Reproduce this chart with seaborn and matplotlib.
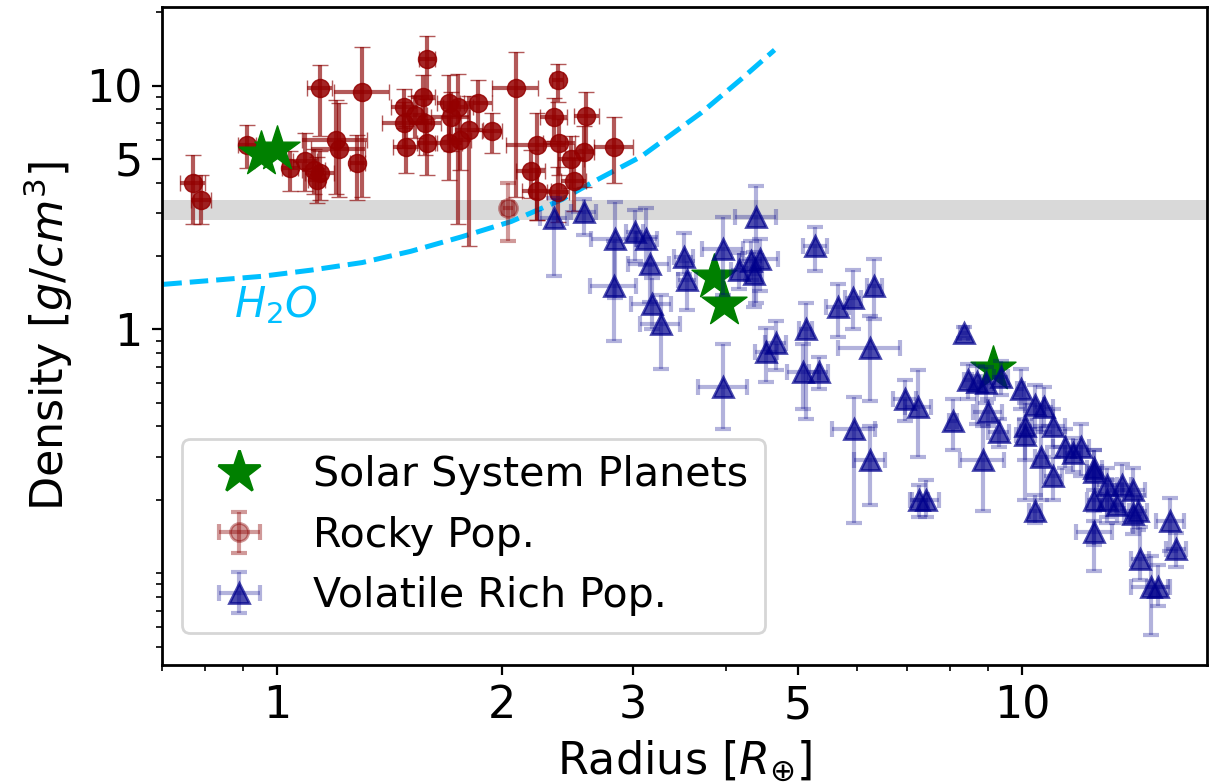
import numpy as np
import matplotlib
matplotlib.use("Agg")
import matplotlib.pyplot as plt
import matplotlib.ticker as mticker
from matplotlib.lines import Line2D
import seaborn as sns

# ---------------- data ----------------
sol_r = [0.95, 1.00, 3.86, 3.98, 9.14]
sol_rho = [5.24, 5.51, 1.64, 1.27, 0.69]

rocky_r = [0.77, 0.79, 0.91, 1.04, 1.09, 1.12, 1.13, 1.14, 1.14, 1.20, 1.21, 1.30, 1.28,
           1.48, 1.48, 1.49, 1.57, 1.58, 1.59, 1.70, 1.71, 1.70, 1.75, 1.81, 1.86, 1.94,
           1.53, 1.59, 1.76, 2.09, 2.38, 2.23, 2.35, 2.39, 2.60, 2.58, 2.50, 2.19, 2.23,
           2.38, 2.83, 2.48]
rocky_rho = [4.0, 3.4, 5.7, 4.6, 4.9, 4.5, 4.1, 4.4, 9.8, 6.0, 5.5, 9.4, 4.8,
             8.2, 7.05, 5.6, 9.0, 7.0, 5.8, 8.5, 7.4, 5.8, 8.2, 6.6, 8.5, 6.5,
             7.6, 12.8, 6.0, 9.8, 10.5, 5.7, 7.4, 5.8, 7.5, 5.35, 4.05, 4.45, 3.7,
             3.65, 5.6, 5.0]
rocky_rho_lo = [1.3, 0.7, 1.1, 0.9, 1.2, 0.9, 0.8, 1.0, 3.6, 2.4, 2.0, 5.9, 1.4,
                1.5, 1.5, 1.2, 2.0, 1.8, 1.5, 2.5, 2.0, 1.7, 5.5, 4.4, 2.0, 1.2,
                1.5, 4.0, 1.5, 6.3, 1.9, 2.9, 1.5, 1.5, 2.0, 1.5, 1.0, 1.0, 0.9,
                0.9, 1.6, 1.2]
rocky_rho_hi = [1.2, 0.9, 1.2, 0.8, 1.5, 1.0, 1.0, 1.0, 2.4, 2.7, 3.0, 5.0, 1.5,
                1.5, 1.5, 1.2, 2.0, 1.8, 1.5, 2.5, 2.0, 1.7, 3.0, 2.5, 2.0, 1.2,
                1.5, 3.2, 1.5, 3.9, 1.8, 2.0, 1.5, 1.5, 1.9, 1.5, 1.0, 1.0, 0.9,
                1.0, 1.8, 1.2]
rocky_r_err = [0.03, 0.025, 0.025, 0.025, 0.04, 0.04, 0.03, 0.05, 0.045, 0.12, 0.10, 0.11, 0.03,
               0.06, 0.10, 0.06, 0.06, 0.08, 0.05, 0.06, 0.10, 0.07, 0.08, 0.08, 0.08, 0.06,
               0.06, 0.04, 0.06, 0.15, 0.04, 0.20, 0.10, 0.12, 0.10, 0.08, 0.10, 0.10, 0.10,
               0.08, 0.17, 0.10]

# one less certain rocky planet drawn fainter
faint_r = [2.04]
faint_rho = [3.15]
faint_rho_err = [0.85]
faint_r_err = [0.03]

vol_r = [2.35, 2.58, 2.84, 2.83, 3.02, 3.13, 3.16, 3.18, 3.27, 3.51, 3.55, 3.97, 3.97, 4.39,
         4.16, 4.32, 4.45, 4.37, 5.27, 5.66, 5.93, 6.33, 6.25, 4.53, 4.67, 5.12, 5.08, 5.33,
         5.95, 6.25, 6.96, 7.25, 7.27, 8.35, 8.08, 8.86, 7.42, 8.45, 8.70, 8.95, 9.36, 9.00,
         9.30, 9.95, 10.4, 10.1, 10.6, 11.0, 11.0, 10.4, 10.7, 11.4, 12.0, 12.5, 12.5, 13.0,
         13.6, 14.1, 12.5, 13.0, 13.4, 14.1, 14.3, 12.5, 14.4, 14.9, 15.2, 15.8, 16.1, 11.7, 10.1]
vol_rho = [2.85, 3.04, 2.34, 1.50, 2.50, 2.34, 1.85, 1.27, 1.05, 1.99, 1.60, 2.13, 0.58, 2.88,
           1.76, 1.90, 1.94, 1.68, 2.19, 1.23, 1.35, 1.50, 0.84, 0.81, 0.88, 1.00, 0.67, 0.67,
           0.39, 0.29, 0.52, 0.48, 0.20, 0.97, 0.42, 0.29, 0.20, 0.62, 0.61, 0.60, 0.64, 0.46,
           0.38, 0.57, 0.49, 0.40, 0.30, 0.40, 0.25, 0.18, 0.48, 0.33, 0.33, 0.26, 0.27, 0.23,
           0.23, 0.22, 0.20, 0.20, 0.19, 0.175, 0.18, 0.147, 0.114, 0.088, 0.088, 0.163, 0.126,
           0.31, 0.37]
vol_rho_lo = [1.2, 0.6, 1.0, 0.6, 0.6, 0.5, 0.55, 0.27, 0.36, 0.3, 0.4, 0.75, 0.19, 1.6,
              0.3, 0.3, 0.5, 0.45, 0.46, 0.3, 0.35, 0.4, 0.33, 0.2, 0.2, 0.57, 0.2, 0.1,
              0.23, 0.1, 0.1, 0.18, 0.03, 0.05, 0.1, 0.11, 0.03, 0.1, 0.2, 0.1, 0.1, 0.06,
              0.05, 0.10, 0.10, 0.2, 0.1, 0.07, 0.05, 0.02, 0.1, 0.06, 0.08, 0.08, 0.05, 0.06,
              0.05, 0.05, 0.07, 0.04, 0.03, 0.03, 0.03, 0.045, 0.02, 0.032, 0.015, 0.04, 0.02,
              0.05, 0.08]
vol_rho_hi = [0.6, 0.4, 1.0, 0.8, 0.6, 0.8, 0.55, 0.35, 0.34, 0.5, 0.3, 0.75, 0.29, 1.0,
              0.3, 0.4, 0.4, 0.4, 0.45, 0.3, 0.4, 0.45, 0.29, 0.2, 0.2, 0.28, 0.2, 0.1,
              0.14, 0.11, 0.1, 0.2, 0.03, 0.05, 0.1, 0.11, 0.04, 0.1, 0.1, 0.1, 0.1, 0.06,
              0.05, 0.12, 0.10, 0.1, 0.1, 0.07, 0.05, 0.03, 0.1, 0.06, 0.08, 0.06, 0.05, 0.04,
              0.05, 0.05, 0.05, 0.04, 0.03, 0.03, 0.03, 0.016, 0.04, 0.03, 0.02, 0.04, 0.02,
              0.05, 0.06]
vol_r_err = [0.10, 0.10, 0.20, 0.20, 0.08, 0.10, 0.20, 0.20, 0.20, 0.10, 0.10, 0.25, 0.30, 0.28,
             0.10, 0.15, 0.25, 0.10, 0.20, 0.20, 0.15, 0.15, 0.60, 0.15, 0.15, 0.10, 0.25, 0.15,
             0.40, 0.30, 0.25, 0.30, 0.20, 0.10, 0.10, 0.60, 0.30, 0.10, 0.10, 0.20, 0.20, 0.40,
             0.30, 0.10, 0.30, 0.20, 0.20, 0.40, 0.30, 0.20, 0.30, 0.40, 0.30, 0.30, 0.30, 0.40,
             0.40, 0.50, 0.30, 0.30, 0.30, 0.40, 0.40, 0.70, 0.40, 0.90, 0.50, 0.70, 0.50,
             0.30, 0.30]

# pure water composition curve
h2o_r = [0.703, 0.952, 1.11, 1.30, 1.51, 1.77, 2.06, 2.41, 2.66, 3.08, 3.71, 4.19, 4.65]
h2o_rho = [1.53, 1.65, 1.75, 1.88, 2.09, 2.40, 2.77, 3.41, 4.04, 5.12, 7.75, 10.6, 14.0]

band_lo, band_hi = 2.8, 3.38

x_major = [1, 2, 3, 5, 10]
y_major = [1, 5, 10]

# ---------------- plot ----------------
sns.set_style("ticks")
plt.rcParams.update({
    "font.family": ["DejaVu Sans"],
    "axes.edgecolor": "black",
    "text.color": "black",
    "axes.labelcolor": "black",
    "xtick.color": "black",
    "ytick.color": "black",
    "axes.linewidth": 1.0,
    "mathtext.fontset": "dejavusans",
})

fig = plt.figure(figsize=(6.075, 3.91), dpi=200)
ax = fig.add_axes([0.1333, 0.1496, 0.8601, 0.8414])
ax.set_xscale("log")
ax.set_yscale("log")

ax.axhspan(band_lo, band_hi, color="#d9d9d9", zorder=0, lw=0)

sns.lineplot(x=h2o_r, y=h2o_rho, ax=ax, color="deepskyblue", lw=1.8,
             linestyle="--", zorder=1, sort=False, estimator=None)
ax.text(0.875, 1.12, r"$H_2O$", color="deepskyblue", fontsize=15,
        ha="left", va="baseline")

red_bar = (0.545, 0.0, 0.0, 0.65)
red_mk = (0.58, 0.0, 0.0, 0.85)
rocky = ax.errorbar(rocky_r, rocky_rho, xerr=rocky_r_err,
                    yerr=[rocky_rho_lo, rocky_rho_hi], fmt="o", ms=6.5,
                    mfc=red_mk, mec=red_mk, mew=0.5, ecolor=red_bar,
                    elinewidth=1.5, capsize=3, capthick=1.5, zorder=3)
faint = ax.errorbar(faint_r, faint_rho, xerr=faint_r_err, yerr=faint_rho_err,
                    fmt="o", color="darkred", alpha=0.4, ms=6.5, elinewidth=1.5,
                    capsize=3, capthick=1.5, zorder=3)

sns.scatterplot(x=sol_r, y=sol_rho, ax=ax, marker="*", s=290, color="green",
                edgecolor="green", linewidth=0.5, zorder=4)

navy_bar = (0.0, 0.0, 0.55, 0.3)
navy_mk = (0.0, 0.0, 0.55, 0.7)
vol = ax.errorbar(vol_r, vol_rho, xerr=vol_r_err, yerr=[vol_rho_lo, vol_rho_hi],
                  fmt="^", ms=7.5, mfc=navy_mk, mec=navy_mk, ecolor=navy_bar,
                  elinewidth=1.5, capsize=3, capthick=1.5, zorder=5)

ax.set_xlim(0.7, 17.7)
ax.set_ylim(0.042, 21)

ax.xaxis.set_major_locator(mticker.FixedLocator(x_major))
ax.xaxis.set_major_formatter(mticker.FixedFormatter([str(v) for v in x_major]))
ax.xaxis.set_minor_locator(mticker.LogLocator(base=10, subs=np.arange(2, 10)))
ax.xaxis.set_minor_formatter(mticker.NullFormatter())
ax.yaxis.set_major_locator(mticker.FixedLocator(y_major))
ax.yaxis.set_major_formatter(mticker.FixedFormatter([str(v) for v in y_major]))
ax.yaxis.set_minor_locator(mticker.LogLocator(base=10, subs=np.arange(1, 10)))
ax.yaxis.set_minor_formatter(mticker.NullFormatter())
ax.tick_params(axis="both", which="major", labelsize=16, length=3.5, width=0.8)
ax.tick_params(axis="both", which="minor", length=2, width=0.6)

ax.set_xlabel(r"Radius [$R_{\oplus}$]", fontsize=16)
ax.set_ylabel(r"Density [$g/cm^3$]", fontsize=16)

star_proxy = Line2D([], [], marker="*", color="green", ls="none", ms=16)
leg = ax.legend([star_proxy, faint, vol],
                ["Solar System Planets", "Rocky Pop.", "Volatile Rich Pop."],
                loc="lower left", bbox_to_anchor=(0.019, 0.049), borderaxespad=0,
                fontsize=14.8, frameon=True, fancybox=True)
leg.get_frame().set_edgecolor("#cccccc")

fig.savefig("out.png", dpi=200)
